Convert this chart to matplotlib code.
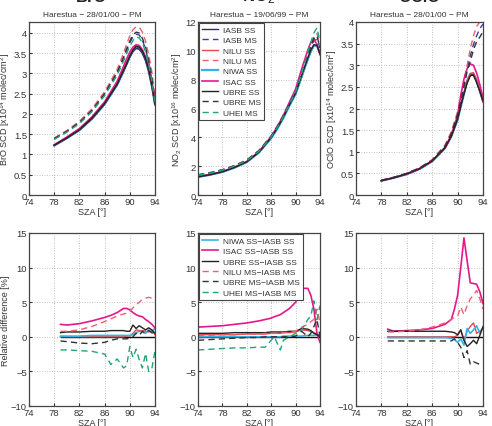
import matplotlib
matplotlib.use("Agg")
import matplotlib.pyplot as plt

# ---------------- data ----------------
bro_x = [78, 80, 82, 84, 86, 88, 89, 89.5, 90, 90.5, 91, 91.5, 92, 92.5, 93, 93.5, 94]
bro_iasb_ss = [1.22, 1.40, 1.60, 1.88, 2.24, 2.72, 3.05, 3.22, 3.40, 3.54, 3.62, 3.60, 3.50, 3.32, 3.05, 2.68, 2.22]
bro_iasb_ms = [1.40, 1.58, 1.80, 2.10, 2.50, 3.02, 3.38, 3.58, 3.76, 3.90, 3.97, 3.95, 3.82, 3.60, 3.28, 2.85, 2.30]
bro_nilu_ss = [1.23, 1.41, 1.61, 1.90, 2.26, 2.75, 3.08, 3.26, 3.44, 3.58, 3.66, 3.64, 3.55, 3.37, 3.10, 2.72, 2.25]
bro_nilu_ms = [1.40, 1.59, 1.82, 2.13, 2.55, 3.10, 3.50, 3.72, 3.93, 4.08, 4.15, 4.14, 4.02, 3.80, 3.47, 3.04, 2.42]
bro_niwa_ss = [1.22, 1.40, 1.60, 1.88, 2.24, 2.72, 3.05, 3.23, 3.41, 3.55, 3.63, 3.61, 3.51, 3.33, 3.06, 2.69, 2.24]
bro_isac_ss = [1.24, 1.43, 1.64, 1.93, 2.30, 2.81, 3.17, 3.36, 3.53, 3.65, 3.71, 3.69, 3.59, 3.41, 3.13, 2.75, 2.25]
bro_ubre_ss = [1.23, 1.41, 1.61, 1.90, 2.26, 2.74, 3.08, 3.25, 3.43, 3.58, 3.67, 3.65, 3.55, 3.37, 3.10, 2.72, 2.25]
bro_ubre_ms = [1.39, 1.57, 1.79, 2.09, 2.50, 3.03, 3.40, 3.61, 3.80, 3.95, 4.02, 4.00, 3.87, 3.65, 3.32, 2.90, 2.33]
bro_uhei_ms = [1.37, 1.55, 1.76, 2.06, 2.45, 2.96, 3.30, 3.50, 3.67, 3.81, 3.90, 3.88, 3.75, 3.53, 3.22, 2.81, 2.28]

no2_x = [74, 76, 78, 80, 82, 84, 86, 87, 88, 89, 90, 91, 92, 92.5, 93, 93.5, 94]
no2_iasb_ss = [1.25, 1.40, 1.60, 1.90, 2.28, 2.95, 3.95, 4.60, 5.35, 6.20, 7.00, 8.20, 9.40, 9.95, 10.35, 10.35, 9.80]
no2_iasb_ms = [1.40, 1.55, 1.75, 2.04, 2.42, 3.08, 4.08, 4.75, 5.50, 6.35, 7.15, 8.40, 9.70, 10.30, 10.70, 10.80, 10.20]
no2_nilu_ss = [1.26, 1.41, 1.61, 1.91, 2.29, 2.97, 3.98, 4.64, 5.40, 6.26, 7.07, 8.30, 9.52, 10.05, 10.42, 10.40, 9.82]
no2_nilu_ms = [1.40, 1.56, 1.76, 2.05, 2.43, 3.10, 4.10, 4.78, 5.54, 6.40, 7.21, 8.52, 9.85, 10.52, 10.95, 11.20, 10.40]
no2_niwa_ss = [1.25, 1.40, 1.60, 1.90, 2.28, 2.95, 3.95, 4.60, 5.35, 6.21, 7.01, 8.21, 9.42, 9.97, 10.37, 10.37, 9.80]
no2_isac_ss = [1.27, 1.42, 1.63, 1.94, 2.33, 3.02, 4.06, 4.74, 5.53, 6.45, 7.35, 8.75, 10.05, 10.60, 10.80, 10.45, 9.72]
no2_ubre_ss = [1.26, 1.41, 1.61, 1.91, 2.30, 2.97, 3.98, 4.64, 5.40, 6.26, 7.06, 8.30, 9.50, 10.05, 10.42, 10.38, 9.80]
no2_ubre_ms = [1.39, 1.54, 1.74, 2.03, 2.41, 3.07, 4.08, 4.75, 5.50, 6.36, 7.16, 8.45, 9.72, 10.35, 10.85, 11.05, 10.20]
no2_uhei_ms = [1.37, 1.52, 1.72, 2.00, 2.38, 3.03, 4.03, 4.68, 5.45, 6.30, 7.17, 8.45, 9.90, 10.60, 11.25, 11.60, 10.60]

oclo_x = [78, 80, 82, 84, 86, 88, 89, 90, 90.5, 91, 91.5, 92, 92.5, 93, 93.5, 94]
oclo_iasb_ss = [0.33, 0.40, 0.48, 0.60, 0.78, 1.08, 1.35, 1.75, 2.05, 2.35, 2.62, 2.78, 2.78, 2.62, 2.40, 2.15]
oclo_iasb_ms = [0.34, 0.41, 0.50, 0.62, 0.81, 1.13, 1.43, 1.88, 2.22, 2.58, 2.92, 3.22, 3.48, 3.68, 3.85, 3.95]
oclo_nilu_ss = [0.33, 0.40, 0.48, 0.60, 0.78, 1.08, 1.35, 1.76, 2.07, 2.36, 2.64, 2.81, 2.83, 2.66, 2.42, 2.16]
oclo_nilu_ms = [0.34, 0.41, 0.50, 0.63, 0.82, 1.15, 1.46, 1.93, 2.30, 2.65, 3.00, 3.38, 3.68, 3.90, 4.00, 4.00]
oclo_niwa_ss = [0.33, 0.40, 0.48, 0.60, 0.78, 1.08, 1.35, 1.74, 2.04, 2.33, 2.65, 2.80, 2.80, 2.64, 2.41, 2.17]
oclo_isac_ss = [0.33, 0.40, 0.49, 0.61, 0.79, 1.10, 1.38, 1.85, 2.30, 2.68, 2.92, 3.03, 3.00, 2.82, 2.55, 2.25]
oclo_ubre_ss = [0.33, 0.40, 0.49, 0.61, 0.79, 1.09, 1.36, 1.76, 2.07, 2.34, 2.58, 2.76, 2.77, 2.60, 2.40, 2.18]
oclo_ubre_ms = [0.34, 0.41, 0.50, 0.62, 0.80, 1.12, 1.42, 1.86, 2.16, 2.50, 2.86, 3.09, 3.36, 3.55, 3.65, 3.78]

# relative differences [%]
dbro_x = [79, 80, 82, 84, 86, 87, 88, 89, 89.5, 90, 90.5, 91, 91.5, 92, 92.5, 93, 93.5, 94]
dbro_nilu_ss = [0.0, 0.0, 0.0, 0.0, 0.0, 0.0, 0.0, 0.0, 0.1, 0.1, 0.5, 1.0, 0.9, 0.9, 0.8, 0.7, 0.9, 0.3]
dbro_niwa_ss = [0.1, 0.1, 0.1, 0.2, 0.2, 0.2, 0.2, 0.2, 0.2, 0.2, 0.3, 0.6, 0.8, 0.7, 0.5, 1.0, 0.6, 1.3]
dbro_isac_ss = [1.8, 1.7, 1.9, 2.3, 2.8, 3.1, 3.5, 4.1, 4.1, 3.9, 3.5, 3.2, 3.0, 2.9, 2.5, 2.2, 1.8, 1.3]
dbro_ubre_ss = [0.6, 0.7, 0.7, 0.8, 0.8, 0.9, 0.9, 0.9, 0.8, 0.8, 1.7, 1.2, 1.6, 1.3, 1.0, 1.3, 1.0, 0.5]
dbro_nilu_ms = [0.8, 0.8, 1.0, 1.5, 2.2, 2.6, 3.0, 3.3, 3.4, 3.6, 4.2, 4.6, 5.0, 5.4, 5.6, 5.7, 5.6, 5.5]
dbro_ubre_ms = [-0.6, -0.7, -0.9, -1.0, -0.8, -0.5, -0.3, -0.3, -0.3, -0.2, 0.0, 0.5, 0.2, 0.8, 0.5, 0.9, 0.6, 0.3]
dbro_uhei_ms = [-1.9, -1.9, -2.0, -2.1, -2.5, -4.0, -3.2, -4.5, -4.2, -1.4, -3.0, -1.8, -3.3, -4.5, -2.4, -5.0, -4.6, -2.0]

dno2_x = [74, 76, 78, 80, 82, 84, 85, 86, 86.5, 87.5, 88, 89, 90, 91, 92, 92.5, 93, 93.5, 94]
dno2_nilu_ss = [0.3, 0.3, 0.3, 0.3, 0.4, 0.4, 0.4, 0.5, 0.5, 0.5, 0.6, 0.6, 0.7, 1.0, 0.9, 0.8, 0.6, 0.4, 0.1]
dno2_niwa_ss = [0.0, 0.0, 0.0, 0.0, 0.0, 0.0, 0.0, 0.0, 0.0, 0.0, 0.1, 0.1, 0.1, 0.1, 0.2, 0.2, 0.2, 0.3, 0.1]
dno2_isac_ss = [1.4, 1.5, 1.6, 1.8, 2.0, 2.3, 2.5, 2.7, 2.9, 3.2, 3.5, 4.1, 5.0, 7.0, 7.0, 6.0, 4.0, 0.5, -0.8]
dno2_ubre_ss = [0.5, 0.5, 0.5, 0.6, 0.6, 0.6, 0.6, 0.7, 0.7, 0.7, 0.7, 0.8, 0.8, 1.2, 1.1, 0.9, 0.5, 0.3, 0.0]
dno2_nilu_ms = [0.2, 0.2, 0.3, 0.3, 0.4, 0.4, 0.5, 0.5, 0.5, 0.6, 0.6, 0.7, 0.8, 1.4, 1.8, 2.2, 2.5, 4.0, 2.0]
dno2_ubre_ms = [-0.5, -0.4, -0.3, -0.2, -0.1, -0.1, 0.0, 0.0, 0.0, 0.0, 0.0, 0.0, 0.1, 0.8, 0.0, 0.5, 1.5, 2.5, 0.0]
dno2_uhei_ms = [-1.9, -1.8, -1.7, -1.6, -1.6, -1.5, -1.5, -0.5, 0.0, -1.9, -0.5, 0.0, 0.5, 1.0, 2.5, 3.0, 5.2, 2.5, 4.5]

doclo_x = [79, 80, 82, 84, 86, 88, 89, 89.5, 90, 90.5, 91, 91.5, 92, 92.5, 93, 93.5, 94]
doclo_nilu_ss = [0.0, 0.0, 0.0, 0.0, 0.0, 0.0, 0.0, 0.0, 0.2, 1.0, -0.5, 0.8, 1.5, 2.0, 0.5, 0.8, 1.2]
doclo_niwa_ss = [-0.1, -0.1, -0.1, -0.1, -0.1, -0.1, -0.2, -0.4, -0.8, -0.3, -1.2, 1.2, 0.5, 1.0, 1.6, 0.5, 1.3]
doclo_isac_ss = [1.1, 0.8, 0.9, 1.0, 1.2, 1.8, 2.5, 4.0, 6.0, 10.0, 14.3, 11.0, 7.8, 7.7, 7.6, 6.5, 4.8]
doclo_ubre_ss = [0.8, 0.8, 0.8, 0.8, 0.8, 0.8, 0.7, 0.6, 0.3, 1.0, -0.5, -1.4, -1.0, -0.5, -1.0, 0.2, 1.5]
doclo_nilu_ms = [0.7, 0.7, 0.8, 1.0, 1.4, 2.0, 2.5, 2.8, 3.0, 4.3, 3.2, 4.5, 5.5, 6.0, 6.7, 5.5, 4.0]
doclo_ubre_ms = [-0.6, -0.6, -0.6, -0.6, -0.6, -0.6, -0.6, -0.3, -0.8, -1.5, -3.0, -2.0, -4.0, -3.6, -3.8, -4.0, -4.2]

# ---------------- styles ----------------
C_IASB = '#2d2a6e'
C_IASB_MS = '#3a3f9e'
C_NILU = '#e8474f'
C_NILU_MS = '#f0606c'
C_NIWA = '#35b3e6'
C_ISAC = '#e4178f'
C_UBRE = '#222222'
C_UBRE_MS = '#333333'
C_UHEI = '#22a37a'
DASH = (0, (4.5, 3))
TXT = '#333333'
FS = 6

plt.rcParams['font.family'] = ['Liberation Sans', 'DejaVu Sans']
plt.rcParams['font.size'] = FS
plt.rcParams['mathtext.fontset'] = 'custom'
plt.rcParams['mathtext.rm'] = 'Liberation Sans'
plt.rcParams['mathtext.it'] = 'Liberation Sans:italic'
plt.rcParams['mathtext.bf'] = 'Liberation Sans:bold'

fig = plt.figure(figsize=(4.92, 4.27), dpi=100)
W, H = 492.0, 427.0
lefts = [29, 198, 356]
rights = [155, 320, 483]
top_row = (23, 196)
bot_row = (234, 407)

def mk(col, row):
    t, b = row
    return fig.add_axes([lefts[col] / W, 1 - b / H, (rights[col] - lefts[col]) / W, (b - t) / H])

def style(ax, ylim, yticks, ytl=None):
    ax.set_xlim(74, 94)
    ax.set_xticks([74, 78, 82, 86, 90, 94])
    ax.set_ylim(*ylim)
    ax.set_yticks(yticks)
    if ytl is not None:
        ax.set_yticklabels(ytl)
    ax.grid(True, linestyle=(0, (1, 2)), color='#b0b0b0', linewidth=0.6)
    ax.tick_params(direction='in', length=2.5, colors=TXT, labelsize=FS + 0.8, pad=1.5)
    for s in ax.spines.values():
        s.set_color('#444444')
        s.set_linewidth(0.9)
    ax.set_xlabel('SZA [°]', color=TXT, fontsize=FS + 0.5, labelpad=1)

def top_plot(ax, x, series):
    for y, c, ls, lw, lab in series:
        ax.plot(x, y, color=c, linestyle=ls, linewidth=lw, label=lab)

# ---- top row ----
ax1 = mk(0, top_row)
top_plot(ax1, bro_x, [
    (bro_niwa_ss, C_NIWA, '-', 1.6, 'NIWA SS'),
    (bro_iasb_ss, C_IASB, '-', 1.0, 'IASB SS'),
    (bro_iasb_ms, C_IASB_MS, DASH, 1.0, 'IASB MS'),
    (bro_nilu_ss, C_NILU, '-', 1.0, 'NILU SS'),
    (bro_nilu_ms, C_NILU_MS, DASH, 1.0, 'NILU MS'),
    (bro_isac_ss, C_ISAC, '-', 1.2, 'ISAC SS'),
    (bro_ubre_ss, C_UBRE, '-', 1.0, 'UBRE SS'),
    (bro_ubre_ms, C_UBRE_MS, DASH, 1.0, 'UBRE MS'),
    (bro_uhei_ms, C_UHEI, DASH, 1.0, 'UHEI MS'),
])
style(ax1, (0, 4.27), [0, 0.5, 1, 1.5, 2, 2.5, 3, 3.5, 4], ['0', '0.5', '1', '1.5', '2', '2.5', '3', '3.5', '4'])
ax1.set_ylabel('BrO SCD [x10$^{14}$ molec/cm$^2$]', color=TXT, fontsize=FS + 0.5, labelpad=1)
ax1.set_title('Harestua − 28/01/00 − PM', color=TXT, fontsize=FS, pad=4)

ax2 = mk(1, top_row)
top_plot(ax2, no2_x, [
    (no2_iasb_ss, C_IASB, '-', 1.0, 'IASB SS'),
    (no2_iasb_ms, C_IASB_MS, DASH, 1.0, 'IASB MS'),
    (no2_nilu_ss, C_NILU, '-', 1.0, 'NILU SS'),
    (no2_nilu_ms, C_NILU_MS, DASH, 1.0, 'NILU MS'),
    (no2_niwa_ss, C_NIWA, '-', 1.6, 'NIWA SS'),
    (no2_isac_ss, C_ISAC, '-', 1.2, 'ISAC SS'),
    (no2_ubre_ss, C_UBRE, '-', 1.0, 'UBRE SS'),
    (no2_ubre_ms, C_UBRE_MS, DASH, 1.0, 'UBRE MS'),
    (no2_uhei_ms, C_UHEI, DASH, 1.0, 'UHEI MS'),
])
style(ax2, (0, 12), [0, 2, 4, 6, 8, 10, 12])
ax2.set_ylabel('NO$_2$ SCD [x10$^{16}$ molec/cm$^2$]', color=TXT, fontsize=FS + 0.5, labelpad=1)
ax2.set_title('Harestua − 19/06/99 − PM', color=TXT, fontsize=FS, pad=4)

def legend(ax, h, l):
    lg = ax.legend(h, l, loc='upper left', fontsize=FS, handlelength=1.9, labelspacing=0.3,
                   borderpad=0.35, handletextpad=0.6, frameon=True, fancybox=False,
                   bbox_to_anchor=(0.0, 1.0), borderaxespad=0.15)
    lg.get_frame().set_edgecolor('#444444')
    lg.get_frame().set_linewidth(0.8)
    lg.get_frame().set_alpha(1)
    for t in lg.get_texts():
        t.set_color(TXT)
    return lg

h, l = ax2.get_legend_handles_labels()
legend(ax2, h, l)

ax3 = mk(2, top_row)
top_plot(ax3, oclo_x, [
    (oclo_niwa_ss, C_NIWA, '-', 1.6, 'NIWA SS'),
    (oclo_iasb_ss, C_IASB, '-', 1.0, 'IASB SS'),
    (oclo_iasb_ms, C_IASB_MS, DASH, 1.0, 'IASB MS'),
    (oclo_nilu_ss, C_NILU, '-', 1.0, 'NILU SS'),
    (oclo_nilu_ms, C_NILU_MS, DASH, 1.0, 'NILU MS'),
    (oclo_isac_ss, C_ISAC, '-', 1.2, 'ISAC SS'),
    (oclo_ubre_ss, C_UBRE, '-', 1.0, 'UBRE SS'),
    (oclo_ubre_ms, C_UBRE_MS, DASH, 1.0, 'UBRE MS'),
])
style(ax3, (0, 4), [0, 0.5, 1, 1.5, 2, 2.5, 3, 3.5, 4], ['0', '0.5', '1', '1.5', '2', '2.5', '3', '3.5', '4'])
ax3.set_ylabel('OClO SCD [x10$^{14}$ molec/cm$^2$]', color=TXT, fontsize=FS + 0.5, labelpad=1)
ax3.set_title('Harestua − 28/01/00 − PM', color=TXT, fontsize=FS, pad=4)

# ---- bottom row ----
def diff_plot(ax, x, series):
    ax.plot([x[0], x[-1]], [0, 0], color='#111111', linewidth=1.0)
    for y, c, ls, lw, lab in series:
        ax.plot(x, y, color=c, linestyle=ls, linewidth=lw, label=lab)

b1 = mk(0, bot_row)
diff_plot(b1, dbro_x, [
    (dbro_nilu_ss, C_NILU, '-', 1.0, 'NILU SS−IASB SS'),
    (dbro_niwa_ss, C_NIWA, '-', 1.2, 'NIWA SS−IASB SS'),
    (dbro_isac_ss, C_ISAC, '-', 1.2, 'ISAC SS−IASB SS'),
    (dbro_ubre_ss, C_UBRE, '-', 1.0, 'UBRE SS−IASB SS'),
    (dbro_nilu_ms, C_NILU_MS, DASH, 1.0, 'NILU MS−IASB MS'),
    (dbro_ubre_ms, C_UBRE_MS, DASH, 1.0, 'UBRE MS−IASB MS'),
    (dbro_uhei_ms, C_UHEI, DASH, 1.0, 'UHEI MS−IASB MS'),
])
style(b1, (-10, 15), [-10, -5, 0, 5, 10, 15])
b1.set_ylabel('Relative difference [%]', color=TXT, fontsize=FS + 0.5, labelpad=1)

b2 = mk(1, bot_row)
diff_plot(b2, dno2_x, [
    (dno2_nilu_ss, C_NILU, '-', 1.0, 'NILU SS−IASB SS'),
    (dno2_niwa_ss, C_NIWA, '-', 1.2, 'NIWA SS−IASB SS'),
    (dno2_isac_ss, C_ISAC, '-', 1.2, 'ISAC SS−IASB SS'),
    (dno2_ubre_ss, C_UBRE, '-', 1.0, 'UBRE SS−IASB SS'),
    (dno2_nilu_ms, C_NILU_MS, DASH, 1.0, 'NILU MS−IASB MS'),
    (dno2_ubre_ms, C_UBRE_MS, DASH, 1.0, 'UBRE MS−IASB MS'),
    (dno2_uhei_ms, C_UHEI, DASH, 1.0, 'UHEI MS−IASB MS'),
])
style(b2, (-10, 15), [-10, -5, 0, 5, 10, 15])
h, l = b2.get_legend_handles_labels()
legend(b2, h[1:], l[1:])

b3 = mk(2, bot_row)
diff_plot(b3, doclo_x, [
    (doclo_nilu_ss, C_NILU, '-', 1.0, 'NILU SS−IASB SS'),
    (doclo_niwa_ss, C_NIWA, '-', 1.2, 'NIWA SS−IASB SS'),
    (doclo_isac_ss, C_ISAC, '-', 1.2, 'ISAC SS−IASB SS'),
    (doclo_ubre_ss, C_UBRE, '-', 1.0, 'UBRE SS−IASB SS'),
    (doclo_nilu_ms, C_NILU_MS, DASH, 1.0, 'NILU MS−IASB MS'),
    (doclo_ubre_ms, C_UBRE_MS, DASH, 1.0, 'UBRE MS−IASB MS'),
])
style(b3, (-10, 15), [-10, -5, 0, 5, 10, 15])

# clipped species headers at the top
for cx, txt in [((lefts[0] + rights[0]) / 2, 'BrO'), ((lefts[1] + rights[1]) / 2, 'NO$_2$'),
                ((lefts[2] + rights[2]) / 2, 'OClO')]:
    fig.text(cx / W, 1.0 + 3.0 / H, txt, ha='center', va='center', fontsize=12,
             fontweight='bold', color='#222222')

fig.savefig('out.png', dpi=100)
